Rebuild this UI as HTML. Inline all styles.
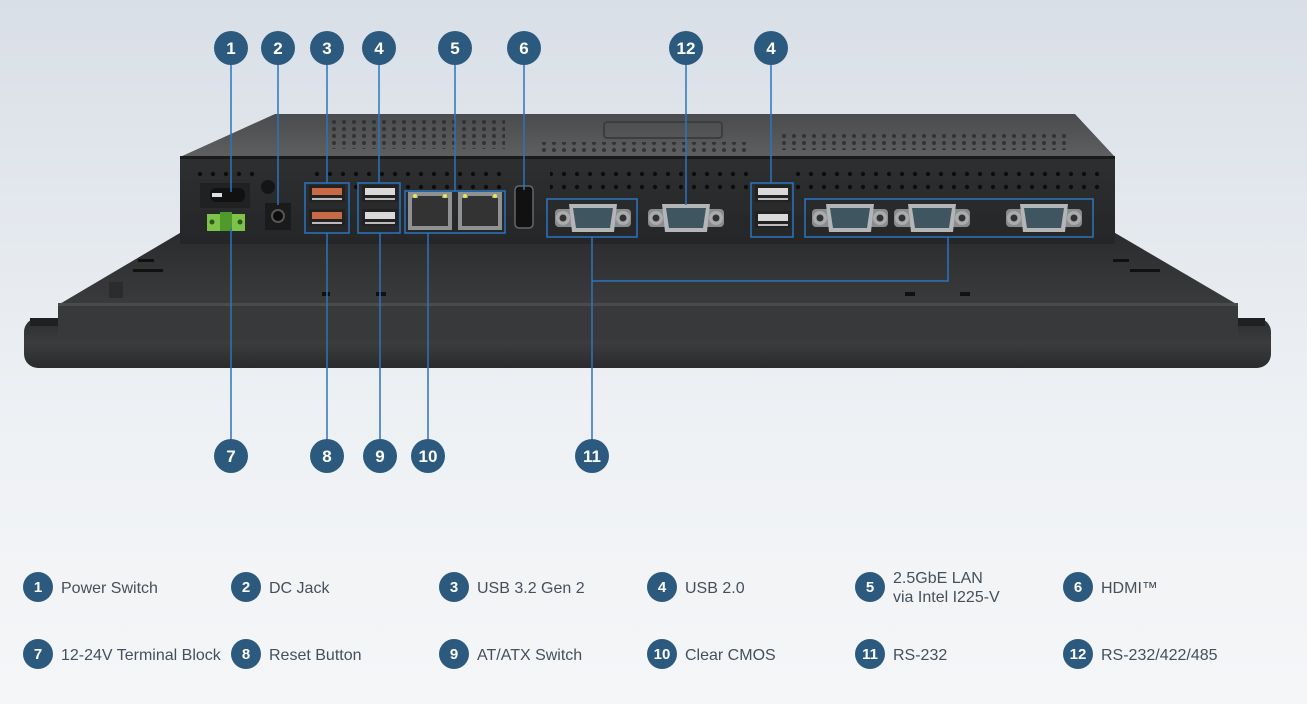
<!DOCTYPE html>
<html><head><meta charset="utf-8"><style>
html,body{margin:0;padding:0;width:1307px;height:704px;overflow:hidden}
body{background:linear-gradient(#d9dfe7,#eef1f4 60%,#f5f6f8);font-family:"Liberation Sans","DejaVu Sans",sans-serif}
</style></head><body>
<svg width="1307" height="704" viewBox="0 0 1307 704" xmlns="http://www.w3.org/2000/svg" style="position:absolute;left:0;top:0">
<defs>
<linearGradient id="top" x1="0" y1="0" x2="0" y2="1"><stop offset="0" stop-color="#4a4b4d"/><stop offset="1" stop-color="#5e5f61"/></linearGradient>
<linearGradient id="front" x1="0" y1="0" x2="0" y2="1"><stop offset="0" stop-color="#2e2f31"/><stop offset="1" stop-color="#252628"/></linearGradient>
<linearGradient id="back" x1="0" y1="0" x2="0" y2="1"><stop offset="0" stop-color="#2a2b2d"/><stop offset="1" stop-color="#3a3b3d"/></linearGradient>
<linearGradient id="bez" x1="0" y1="0" x2="0" y2="1"><stop offset="0" stop-color="#2c2d2f"/><stop offset="0.5" stop-color="#3b3c3e"/><stop offset="1" stop-color="#2a2b2d"/></linearGradient>
<pattern id="holes" width="13" height="13" patternUnits="userSpaceOnUse"><circle cx="5" cy="5" r="2.2" fill="#0d0d0e"/></pattern>
<pattern id="holes2" width="10" height="7" patternUnits="userSpaceOnUse"><circle cx="4" cy="3" r="2" fill="#2a2a2b"/></pattern>
<g id="db9"><rect x="-38" y="-9" width="76" height="18" rx="4" fill="#8a8c8e"/><circle cx="-30" cy="0" r="7" fill="#a9abad"/><circle cx="-30" cy="0" r="3.5" fill="#333"/><circle cx="30" cy="0" r="7" fill="#a9abad"/><circle cx="30" cy="0" r="3.5" fill="#333"/><path d="M-24,-14 H24 L21,14 H-21 Z" fill="#b3b5b7"/><path d="M-20,-10 H20 L17,10 H-17 Z" fill="#3f5560"/></g>
<g id="usb"><rect x="0" y="0" width="36" height="17" fill="#222"/><rect x="3" y="3" width="30" height="7" fill="#d9d9d9"/><rect x="3" y="13" width="30" height="2" fill="#bbb"/></g>
<g id="usb3"><rect x="0" y="0" width="36" height="17" fill="#222"/><rect x="3" y="3" width="30" height="7" fill="#c86a45"/><rect x="3" y="13" width="30" height="2" fill="#bbb"/></g>
<g id="rj"><rect x="0" y="0" width="44" height="38" fill="#8f9193"/><rect x="4" y="6" width="36" height="28" fill="#333"/><rect x="10" y="4" width="24" height="6" fill="#333"/><circle cx="7" cy="4" r="2" fill="#e6e85a"/><circle cx="37" cy="4" r="2" fill="#e6e85a"/></g>
</defs>
<!-- bezel -->
<rect x="24" y="318" width="1247" height="50" rx="14" fill="url(#bez)"/>
<rect x="30" y="318" width="1235" height="8" fill="#1f2022"/>
<!-- panel back -->
<polygon points="185,230 1110,230 1238,305 58,305" fill="url(#back)"/>
<rect x="58" y="303" width="1180" height="36" rx="3" fill="#38393b"/>
<rect x="58" y="303" width="1180" height="3" fill="#4a4b4d"/>
<circle cx="116" cy="289" r="7" fill="#1d1d1e"/><rect x="109" y="282" width="14" height="16" fill="#2c2c2d"/>
<rect x="138" y="259" width="16" height="3" fill="#111"/><rect x="133" y="269" width="30" height="3" fill="#111"/>
<rect x="1113" y="259" width="16" height="3" fill="#111"/><rect x="1130" y="269" width="30" height="3" fill="#111"/>
<rect x="322" y="292" width="8" height="4" fill="#111"/><rect x="376" y="292" width="10" height="4" fill="#111"/>
<rect x="905" y="292" width="10" height="4" fill="#111"/><rect x="960" y="292" width="10" height="4" fill="#111"/>
<!-- box top -->
<polygon points="180,157 275,114 1075,114 1115,157" fill="url(#top)"/>
<rect x="330" y="119" width="175" height="30" fill="url(#holes2)" opacity="0.8"/>
<rect x="780" y="132" width="290" height="18" fill="url(#holes2)" opacity="0.8"/>
<rect x="540" y="142" width="210" height="12" fill="url(#holes2)" opacity="0.8"/>
<rect x="604" y="122" width="118" height="16" rx="3" fill="none" stroke="#3c3d3f" stroke-width="2"/>
<!-- box front -->
<rect x="180" y="156" width="935" height="88" fill="url(#front)"/>
<rect x="180" y="156" width="935" height="3" fill="#1b1b1c"/>
<rect x="195" y="164" width="60" height="13" fill="url(#holes)"/>
<rect x="310" y="164" width="200" height="26" fill="url(#holes)"/>
<rect x="550" y="164" width="200" height="28" fill="url(#holes)"/>
<rect x="790" y="164" width="310" height="28" fill="url(#holes)"/>
<!-- power switch -->
<rect x="200" y="183" width="50" height="25" fill="#202122"/>
<rect x="210" y="188" width="35" height="14" rx="6" fill="#111"/><rect x="212" y="193" width="10" height="4" fill="#ddd"/>
<rect x="207" y="214" width="38" height="17" fill="#7dc24a"/><rect x="220" y="212" width="12" height="19" fill="#4f9a2a"/>
<circle cx="212" cy="222" r="2.5" fill="#2d5a19"/><circle cx="240" cy="222" r="2.5" fill="#2d5a19"/>
<circle cx="268" cy="187" r="7" fill="#151515"/>
<rect x="265" y="203" width="26" height="27" fill="#1b1b1c"/><circle cx="278" cy="216" r="6" fill="#0c0c0c" stroke="#555" stroke-width="2"/>
<!-- usb -->
<use href="#usb3" x="309" y="185"/><use href="#usb3" x="309" y="209"/>
<use href="#usb" x="362" y="185"/><use href="#usb" x="362" y="209"/>
<use href="#usb" x="755" y="185"/><use href="#usb" x="755" y="211"/>
<use href="#rj" x="408" y="192"/><use href="#rj" x="458" y="192"/>
<rect x="515" y="186" width="18" height="42" rx="4" fill="#111" stroke="#666" stroke-width="1.5"/>
<use href="#db9" x="593" y="218"/><use href="#db9" x="686" y="218"/>
<use href="#db9" x="850" y="218"/><use href="#db9" x="932" y="218"/><use href="#db9" x="1044" y="218"/>
<!-- highlight boxes -->
<g fill="none" stroke="#2c74c0" stroke-width="1.5">
<rect x="305" y="183" width="44" height="50"/>
<rect x="358" y="183" width="42" height="50"/>
<rect x="405" y="191" width="100" height="42"/>
<rect x="547" y="199" width="90" height="38"/>
<rect x="751" y="183" width="42" height="54"/>
<rect x="805" y="199" width="288" height="38"/>
</g>
<!-- leader lines -->
<g stroke="#2c74c0" stroke-width="1.5" fill="none">
<path d="M231,47 V192"/><path d="M278,47 V205"/><path d="M327,47 V183"/><path d="M379,47 V183"/>
<path d="M455,47 V191"/><path d="M524,47 V190"/><path d="M686,47 V205"/><path d="M771,47 V183"/>
<path d="M231,228 V455"/><path d="M327,233 V455"/><path d="M380,233 V455"/><path d="M428,233 V455"/>
<path d="M592,237 V455"/><path d="M592,281 H948 V237"/>
</g>
<!-- callouts -->
<g font-size="17" font-weight="bold" fill="#fff" text-anchor="middle">
<g fill="#2c5a7e"><circle cx="231" cy="48" r="17"/><circle cx="278" cy="48" r="17"/><circle cx="327" cy="48" r="17"/><circle cx="379" cy="48" r="17"/><circle cx="455" cy="48" r="17"/><circle cx="524" cy="48" r="17"/><circle cx="686" cy="48" r="17"/><circle cx="771" cy="48" r="17"/>
<circle cx="231" cy="456" r="17"/><circle cx="327" cy="456" r="17"/><circle cx="380" cy="456" r="17"/><circle cx="428" cy="456" r="17"/><circle cx="592" cy="456" r="17"/></g>
<text x="231" y="54">1</text><text x="278" y="54">2</text><text x="327" y="54">3</text><text x="379" y="54">4</text><text x="455" y="54">5</text><text x="524" y="54">6</text><text x="686" y="54">12</text><text x="771" y="54">4</text>
<text x="231" y="462">7</text><text x="327" y="462">8</text><text x="380" y="462">9</text><text x="428" y="462">10</text><text x="592" y="462">11</text>
</g>
<!-- legend -->
<g fill="#2c5a7e">
<circle cx="38" cy="587" r="15"/><circle cx="246" cy="587" r="15"/><circle cx="454" cy="587" r="15"/><circle cx="662" cy="587" r="15"/><circle cx="870" cy="587" r="15"/><circle cx="1078" cy="587" r="15"/>
<circle cx="38" cy="654" r="15"/><circle cx="246" cy="654" r="15"/><circle cx="454" cy="654" r="15"/><circle cx="662" cy="654" r="15"/><circle cx="870" cy="654" r="15"/><circle cx="1078" cy="654" r="15"/>
</g>
<g font-size="15" font-weight="bold" fill="#fff" text-anchor="middle">
<text x="38" y="592">1</text><text x="246" y="592">2</text><text x="454" y="592">3</text><text x="662" y="592">4</text><text x="870" y="592">5</text><text x="1078" y="592">6</text>
<text x="38" y="659">7</text><text x="246" y="659">8</text><text x="454" y="659">9</text><text x="662" y="659">10</text><text x="870" y="659">11</text><text x="1078" y="659">12</text>
</g>
<g font-size="16" fill="#45505b">
<text x="61" y="593">Power Switch</text><text x="269" y="593">DC Jack</text><text x="477" y="593">USB 3.2 Gen 2</text><text x="685" y="593">USB 2.0</text>
<text x="893" y="583">2.5GbE LAN</text><text x="893" y="602">via Intel I225-V</text><text x="1101" y="593">HDMI™</text>
<text x="61" y="660">12-24V Terminal Block</text><text x="269" y="660">Reset Button</text><text x="477" y="660">AT/ATX Switch</text><text x="685" y="660">Clear CMOS</text><text x="893" y="660">RS-232</text><text x="1101" y="660">RS-232/422/485</text>
</g>
</svg>
</body></html>
